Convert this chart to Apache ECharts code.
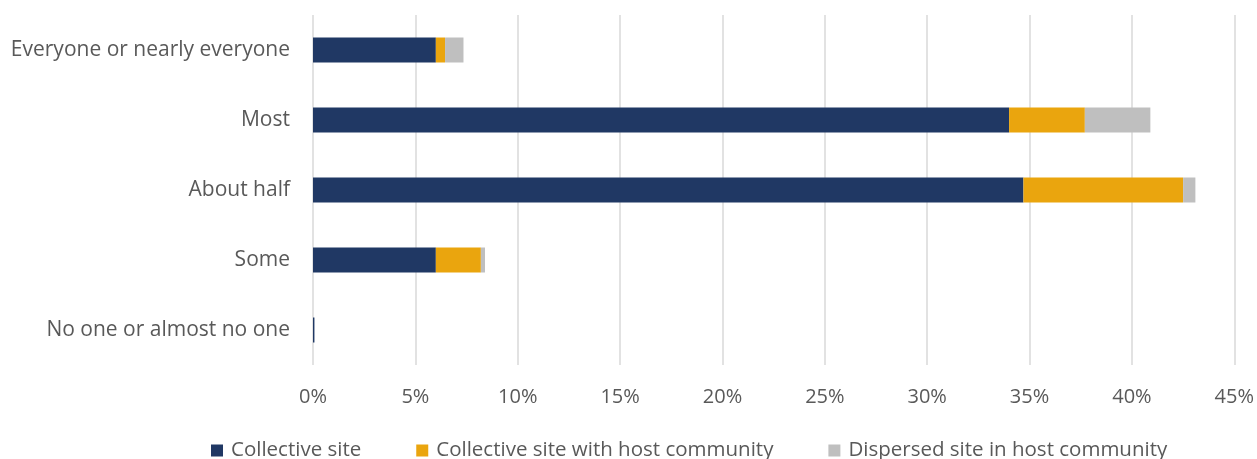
<!DOCTYPE html>
<html>
<head>
<meta charset="utf-8">
<script src="https://cdn.jsdelivr.net/npm/echarts@6/dist/echarts.min.js"></script>
<style>
  html, body { margin: 0; padding: 0; background: #fff; }
  #chart { width: 1257px; height: 459px; }
</style>
</head>
<body>
<div id="chart"></div>
<script>
// Share of respondents by answer, split by site type (percent)
const categories = [
  'Everyone or nearly everyone',
  'Most',
  'About half',
  'Some',
  'No one or almost no one'
];
const collectiveSite = [6.0, 34.0, 34.7, 6.0, 0.07];
const collectiveWithHost = [0.45, 3.7, 7.8, 2.2, 0];
const dispersedInHost = [0.9, 3.2, 0.6, 0.2, 0];
const seriesNames = [
  'Collective site',
  'Collective site with host community',
  'Dispersed site in host community'
];
const colors = ['#203864', '#EAA50E', '#BFBFBF'];

const font = 'Open Sans';
const textColor = '#595959';

const chart = echarts.init(document.getElementById('chart'), null, { renderer: 'canvas' });

const seriesData = [collectiveSite, collectiveWithHost, dispersedInHost];

chart.setOption({
  animation: false,
  textStyle: { fontFamily: font },
  grid: { left: 313, right: 21, top: 15, bottom: 94, containLabel: false },
  legend: {
    left: 211,
    top: 440,
    padding: 0,
    itemWidth: 12,
    itemHeight: 12,
    itemGap: 55,
    icon: 'rect',
    textStyle: { fontFamily: font, fontSize: 20.5, color: textColor, padding: [0, 0, 0, 3] },
    data: seriesNames
  },
  xAxis: {
    type: 'value',
    min: 0,
    max: 45,
    interval: 5,
    axisLine: { show: false },
    axisTick: { show: false },
    axisLabel: {
      formatter: v => v + '%',
      fontFamily: font,
      fontSize: 20,
      color: textColor,
      margin: 22
    },
    splitLine: { show: true, lineStyle: { color: '#D9D9D9', width: 1.5 } }
  },
  yAxis: {
    type: 'category',
    inverse: true,
    data: categories,
    axisLine: { show: false },
    axisTick: { show: false },
    axisLabel: {
      fontFamily: font,
      fontSize: 21,
      color: textColor,
      margin: 23
    }
  },
  series: seriesNames.map((name, i) => ({
    name: name,
    type: 'bar',
    stack: 'total',
    barWidth: 25,
    itemStyle: { color: colors[i] },
    data: seriesData[i]
  }))
});
</script>
</body>
</html>
